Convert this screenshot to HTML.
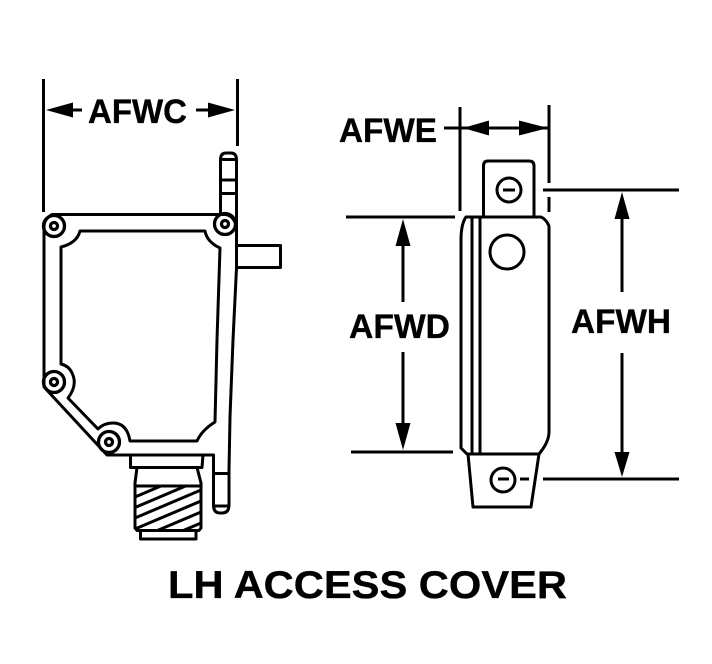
<!DOCTYPE html>
<html>
<head>
<meta charset="utf-8">
<style>
html,body{margin:0;padding:0;background:#fff;width:712px;height:664px;overflow:hidden}
svg{display:block}
text{font-family:"Liberation Sans",sans-serif;font-weight:bold;fill:#000;stroke:#000;stroke-width:.35px}
</style>
</head>
<body>
<svg width="712" height="664" viewBox="0 0 712 664" xmlns="http://www.w3.org/2000/svg">
<defs><clipPath id="h"><rect x="135" y="486" width="66" height="44"/></clipPath></defs>
<g fill="none" stroke="#000" stroke-width="3" stroke-linejoin="round">
<!-- left view: extension lines -->
<path d="M43.500 79V212M237.500 79V146"/>
<!-- dims AFWC -->
<path d="M70 110H82M196 110H212"/>
<!-- pin top -->
<path d="M220.500 216V160Q220.500 153 226 153H231Q236.500 153 236.500 160V245M221 159.500H236M221 180H236M221 193.500H236"/>
<!-- side tab -->
<path d="M237 245.500H280.500V267.500H237"/>
<!-- outer cover -->
<path d="M44 227Q44 219 52 214.500H225Q233 215 236.500 226L236.500 268L233 340L230 417L229 470V505Q229 513 222 513H220Q213.500 513 213.500 505V455H107L44 387Z"/>
<path d="M214 473.500H229M214 506H229"/>
<!-- inner cover -->
<path d="M61 247Q77 243 80 231H205Q207 242 220 248L217 340L215 422Q202 430 197 441H130Q127 423 113 423Q104 423 98 429L68 398Q78 385 72 373Q69 366 61 364Z"/>
<!-- screws -->
<g stroke-width="3.300">
<circle cx="54" cy="226" r="10.500"/><circle cx="54" cy="226" r="3.500"/>
<circle cx="225" cy="224" r="10.500"/><circle cx="225" cy="224" r="3.500"/>
<circle cx="54" cy="382" r="10.500"/><circle cx="54" cy="382" r="3.500"/>
<circle cx="109" cy="442" r="10.500"/><circle cx="109" cy="442" r="3.500"/>
</g>
<!-- connector -->
<path d="M130.500 455V467.500H202L203 455"/>
<path d="M137 467.500L135 483V528L137 530.500H199L201 528V483L197 467.500"/>
<path d="M135 486H201"/>
<path d="M140.500 530.500V539H196V530.500"/>
<g clip-path="url(#h)">
<path d="M135 497l66-28M135 507.500l66-28M135 518l66-28M135 529l66-28M135 540l66-28M135 551l66-28"/>
</g>
<!-- right view: upper tab -->
<path d="M483.500 216V166Q483.500 161 488 161H529Q534 161 534 166V216"/>
<circle cx="509" cy="190" r="12"/>
<path d="M503 190H515"/>
<!-- body -->
<path d="M466 217H541Q546 219 549 226V432Q549 442 539 454H467L461 448V240Q461 224 466 217Z"/>
<path d="M472 217V454M480 217V454"/>
<circle cx="507" cy="252" r="17"/>
<!-- lower tab -->
<path d="M468 454L473 507H531L539 454"/>
<circle cx="503" cy="480" r="12"/>
<path d="M498 479H509M520 479H529"/>
<!-- dims lines -->
<path d="M460 107V211M549 105V183M549 197V212"/>
<path d="M444 128H549"/>
<path d="M346 217H455M351 452H453"/>
<path d="M403 240V302M403 352V430"/>
<path d="M543 190H679M543 479H679"/>
<path d="M622 210V292M622 353V460"/>
</g>
<!-- arrowheads -->
<g fill="#000">
<path d="M46 110L73 102.500V117.500Z"/>
<path d="M235 110L208 102.500V117.500Z"/>
<path d="M463 128L489 120.500V135.500Z"/>
<path d="M548 128L519 120.500V135.500Z"/>
<path d="M403 219L395.500 246H410.500Z"/>
<path d="M403 450L395.500 423H410.500Z"/>
<path d="M622 192L614.500 219H629.500Z"/>
<path d="M622 477L614.500 452H629.500Z"/>
</g>
<text x="88" y="123" font-size="34" textLength="99" lengthAdjust="spacingAndGlyphs">AFWC</text>
<text x="339" y="142" font-size="34" textLength="98" lengthAdjust="spacingAndGlyphs">AFWE</text>
<text x="349" y="338" font-size="34" textLength="101" lengthAdjust="spacingAndGlyphs">AFWD</text>
<text x="571" y="333" font-size="34" textLength="100" lengthAdjust="spacingAndGlyphs">AFWH</text>
<text x="168" y="598" font-size="39" textLength="399" lengthAdjust="spacingAndGlyphs">LH ACCESS COVER</text>
</svg>
</body>
</html>
